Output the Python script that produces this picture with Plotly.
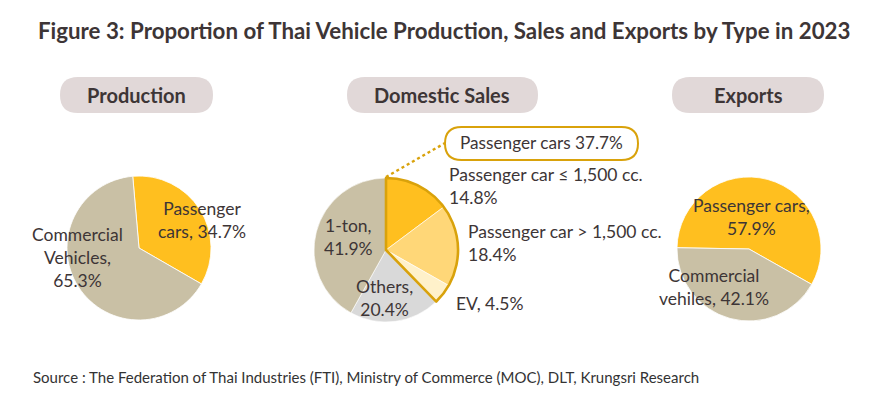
import plotly.graph_objects as go

W, H = 870, 397

# ---- data ----
prod_labels = ["Passenger cars", "Commercial Vehicles"]
prod_values = [34.7, 65.3]

dom_labels = ["Passenger car ≤ 1,500 cc.", "Passenger car > 1,500 cc.", "EV", "Others", "1-ton"]
dom_values = [14.8, 18.4, 4.5, 20.4, 41.9]
dom_group_label = "Passenger cars"
dom_group_members = 3  # first three slices are passenger cars

exp_labels = ["Passenger cars", "Commercial vehiles"]
exp_values = [57.9, 42.1]

panel_titles = ["Production", "Domestic Sales", "Exports"]
title = "Figure 3: Proportion of Thai Vehicle Production, Sales and Exports by Type in 2023"
source = "Source : The Federation of Thai Industries (FTI), Ministry of Commerce (MOC), DLT, Krungsri Research"

# ---- styles ----
FONT = "Lato"
TXT = "#3d3536"
GOLD = "#FFBF1F"
KHAKI = "#C9C0A5"
OUTLINE = "#D9A20B"
PILL = "#E1D8D8"


def px_x(x):
    return x / W


def px_y(y):
    return 1 - y / H


def dom(cx, cy, r):
    return dict(x=[px_x(cx - r), px_x(cx + r)], y=[px_y(cy + r), px_y(cy - r)])


fig = go.Figure()

R = 72
fig.add_trace(go.Pie(
    labels=prod_labels, values=prod_values, sort=False, direction="clockwise", rotation=-5,
    marker=dict(colors=[GOLD, KHAKI], line=dict(color="white", width=0.8)),
    textinfo="none", domain=dom(139, 248, R), showlegend=False, hole=0))

fig.add_trace(go.Pie(
    labels=dom_labels, values=dom_values, sort=False, direction="clockwise", rotation=0,
    marker=dict(colors=[GOLD, "#FFD778", "#FFF1CA", "#D9D9D9", KHAKI],
                line=dict(color="white", width=0.6)),
    textinfo="none", domain=dom(386, 250, R), showlegend=False))

group_val = sum(dom_values[:dom_group_members])
fig.add_trace(go.Pie(
    labels=[dom_group_label, "rest"], values=[group_val, 100 - group_val], sort=False,
    direction="clockwise", rotation=0,
    marker=dict(colors=["rgba(0,0,0,0)", "rgba(0,0,0,0)"],
                line=dict(color=[OUTLINE, "rgba(0,0,0,0)"], width=[2.6, 0])),
    textinfo="none", domain=dom(386, 250, R), showlegend=False, hoverinfo="skip"))

fig.add_trace(go.Pie(
    labels=exp_labels, values=exp_values, sort=False, direction="clockwise", rotation=-89,
    marker=dict(colors=[GOLD, KHAKI], line=dict(color="white", width=0.8)),
    textinfo="none", domain=dom(749, 249, R), showlegend=False))

shapes = []
annotations = []


def rounded(x0, x1, y0, y1):
    r = (y1 - y0) / 2
    return (f"M {px_x(x0 + r)},{px_y(y0)} L {px_x(x1 - r)},{px_y(y0)} "
            f"Q {px_x(x1)},{px_y(y0)} {px_x(x1)},{px_y(y0 + r)} "
            f"Q {px_x(x1)},{px_y(y1)} {px_x(x1 - r)},{px_y(y1)} "
            f"L {px_x(x0 + r)},{px_y(y1)} "
            f"Q {px_x(x0)},{px_y(y1)} {px_x(x0)},{px_y(y0 + r)} "
            f"Q {px_x(x0)},{px_y(y0)} {px_x(x0 + r)},{px_y(y0)} Z")


def ann(x, y, text, size=17.5, xanchor="center", bold=False, color=TXT):
    align = "left" if xanchor == "left" else "center"
    annotations.append(dict(x=px_x(x), y=px_y(y), xref="paper", yref="paper",
                            text=f"<b>{text}</b>" if bold else text,
                            showarrow=False, xanchor=xanchor, yanchor="middle", align=align,
                            font=dict(family=FONT, size=size, color=color)))


def lines(x, ys, texts, size=17.5, xanchor="center"):
    ann(x, sum(ys) / len(ys), "<br>".join(texts), size=size, xanchor=xanchor)


def pill(x0, x1, y0, y1, text):
    shapes.append(dict(type="path", xref="paper", yref="paper", path=rounded(x0, x1, y0, y1),
                       fillcolor=PILL, line=dict(width=0), layer="below"))
    ann((x0 + x1) / 2, (y0 + y1) / 2, text, size=20, bold=True)


pill(60, 213, 77, 113, panel_titles[0])
pill(347, 538, 77, 113, panel_titles[1])
pill(672, 824, 77, 113, panel_titles[2])

# label box for passenger group
shapes.append(dict(type="path", xref="paper", yref="paper", path=rounded(445, 638, 127, 160),
                   fillcolor="white", line=dict(color=OUTLINE, width=2)))
shapes.append(dict(type="line", xref="paper", yref="paper",
                   x0=px_x(386), y0=px_y(177), x1=px_x(445), y1=px_y(143),
                   line=dict(color=OUTLINE, width=2.5, dash="dot")))
ann(541, 143, f"{dom_group_label} {group_val:.1f}%", size=17.2)

# production labels
lines(202, [210, 229], ["Passenger", "cars, %.1f%%" % prod_values[0]])
lines(77, [238, 258, 277], ["Commercial", "Vehicles,", "%.1f%%" % prod_values[1]])

# domestic labels
lines(447, [175, 196], [dom_labels[0], f"{dom_values[0]:.1f}%"], size=17.5, xanchor="left")
lines(466, [231, 255], [dom_labels[1], f"{dom_values[1]:.1f}%"], size=17.5, xanchor="left")
ann(454, 303, f"{dom_labels[2]}, {dom_values[2]:.1f}%", size=17.5, xanchor="left")
lines(384, [288, 307], [f"{dom_labels[3]},", f"{dom_values[3]:.1f}%"])
lines(348, [227, 247], [f"{dom_labels[4]},", f"{dom_values[4]:.1f}%"])

# export labels
lines(751, [205, 228], [f"{exp_labels[0]},", f"{exp_values[0]:.1f}%"])
lines(714, [275, 298], ["Commercial", "vehiles, %.1f%%" % exp_values[1]])

# title & source
ann(444, 30, title, size=22.3, bold=True)
ann(31, 377, source, size=15, xanchor="left", color="#333333")

fig.update_layout(width=W, height=H, margin=dict(l=0, r=0, t=0, b=0),
                  paper_bgcolor="white", plot_bgcolor="white",
                  shapes=shapes, annotations=annotations, showlegend=False)

fig.write_html("out.html", config={"displayModeBar": False},
               post_script="document.body.style.margin='0px';")
